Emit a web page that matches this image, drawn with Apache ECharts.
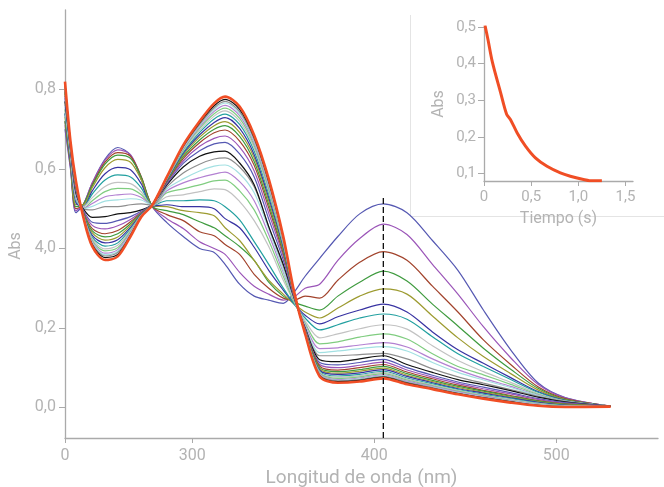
<!DOCTYPE html>
<html>
<head>
<meta charset="utf-8">
<script src="https://cdn.jsdelivr.net/npm/echarts@6/dist/echarts.min.js"></script>
<style>html,body{margin:0;padding:0;background:#fff}#c{width:664px;height:487px}</style>
</head>
<body>
<div id="c"></div>
<script>
// Wavelengths (nm)
const wavelengths = [230,233,236,240,245,252,259,266,272,278,286,295,304,312,318,326,334,342,350,356,362,370,380,392,405,418,432,446,460,475,490,505,530];

// Spectra (Abs), in time order
const spectra = [
[.70,.60,.49,.51,.565,.625,.654,.635,.572,.505,.465,.43,.40,.39,.36,.31,.28,.27,.262,.29,.33,.375,.43,.487,.512,.49,.42,.345,.245,.145,.062,.025,.003],
[.71,.605,.495,.51,.565,.622,.648,.636,.578,.505,.475,.45,.417,.40,.385,.34,.305,.285,.27,.278,.30,.31,.37,.425,.461,.435,.36,.285,.203,.125,.058,.024,.003],
[.72,.61,.50,.51,.56,.617,.641,.632,.58,.506,.485,.47,.442,.432,.41,.385,.335,.30,.275,.27,.28,.275,.32,.365,.392,.37,.305,.24,.17,.108,.052,.022,.003],
[.72,.615,.505,.51,.558,.612,.635,.627,.578,.506,.495,.485,.467,.452,.432,.405,.37,.315,.28,.265,.255,.245,.28,.315,.343,.318,.26,.205,.149,.096,.048,.02,.003],
[.73,.62,.51,.51,.553,.603,.624,.617,.572,.507,.505,.495,.49,.482,.452,.42,.37,.32,.285,.26,.24,.225,.25,.28,.298,.285,.23,.175,.128,.085,.044,.019,.003],
[.74,.625,.515,.505,.545,.588,.604,.598,.562,.507,.51,.505,.505,.50,.475,.452,.403,.345,.295,.26,.232,.21,.228,.245,.26,.24,.19,.145,.111,.075,.04,.018,.003],
[.74,.63,.52,.505,.537,.572,.585,.58,.552,.508,.52,.52,.522,.52,.505,.472,.417,.36,.30,.26,.225,.195,.208,.225,.235,.222,.178,.135,.103,.07,.038,.017,.003],
[.75,.635,.525,.505,.528,.556,.566,.563,.542,.508,.53,.535,.543,.55,.548,.518,.47,.405,.32,.265,.218,.175,.185,.198,.208,.197,.155,.118,.09,.063,.035,.016,.003],
[.75,.64,.53,.50,.52,.543,.551,.55,.535,.508,.54,.55,.56,.57,.572,.545,.497,.42,.33,.265,.212,.16,.165,.177,.185,.172,.135,.103,.082,.058,.033,.016,.003],
[.76,.64,.53,.50,.513,.53,.535,.537,.528,.509,.545,.565,.578,.587,.592,.568,.52,.435,.34,.27,.208,.148,.15,.157,.163,.152,.122,.095,.073,.053,.031,.015,.003],
[.76,.645,.535,.50,.506,.519,.522,.525,.522,.509,.55,.575,.595,.607,.61,.588,.54,.448,.345,.27,.205,.138,.142,.148,.153,.142,.113,.088,.069,.05,.03,.015,.003],
[.77,.65,.54,.50,.497,.505,.505,.51,.512,.509,.555,.59,.612,.625,.628,.605,.555,.455,.355,.272,.202,.13,.13,.133,.136,.122,.097,.077,.061,.045,.028,.015,.003],
[.77,.65,.54,.50,.478,.48,.487,.49,.497,.51,.56,.605,.632,.643,.645,.615,.56,.455,.36,.275,.20,.12,.115,.122,.13,.108,.088,.07,.057,.042,.026,.014,.003],
[.778,.653,.545,.497,.466,.463,.470,.480,.494,.51,.563,.614,.646,.663,.667,.638,.580,.474,.371,.277,.198,.113,.107,.113,.121,.100,.081,.064,.051,.037,.022,.012,.003],
[.784,.656,.548,.494,.458,.449,.457,.473,.492,.51,.566,.620,.657,.677,.683,.655,.595,.489,.380,.279,.196,.108,.100,.106,.114,.094,.076,.060,.047,.034,.020,.010,.003],
[.790,.658,.552,.492,.450,.437,.445,.467,.490,.51,.568,.626,.666,.691,.698,.670,.609,.502,.387,.281,.194,.104,.094,.100,.108,.089,.072,.056,.043,.030,.017,.009,.003],
[.794,.659,.554,.491,.444,.429,.437,.462,.489,.51,.569,.631,.673,.700,.709,.682,.619,.511,.393,.282,.193,.100,.090,.095,.103,.085,.068,.053,.041,.028,.016,.008,.003],
[.797,.661,.556,.489,.439,.421,.429,.458,.488,.51,.571,.635,.680,.709,.719,.692,.628,.520,.398,.283,.192,.097,.086,.091,.099,.081,.065,.050,.038,.026,.014,.007,.003],
[.801,.662,.558,.488,.433,.414,.422,.453,.487,.51,.572,.639,.686,.717,.729,.702,.636,.528,.403,.284,.191,.094,.083,.087,.095,.078,.062,.047,.036,.024,.013,.006,.003],
[.804,.664,.560,.486,.428,.406,.414,.449,.485,.51,.574,.642,.692,.726,.738,.712,.645,.537,.408,.285,.190,.091,.079,.083,.091,.074,.059,.045,.033,.022,.011,.005,.003],
[.807,.665,.562,.485,.424,.399,.408,.446,.484,.51,.575,.646,.697,.733,.746,.720,.653,.544,.412,.286,.189,.089,.076,.080,.088,.071,.057,.043,.031,.020,.010,.004,.003],
[.810,.666,.564,.484,.420,.394,.402,.443,.484,.51,.576,.648,.702,.739,.753,.727,.659,.550,.415,.287,.188,.087,.073,.077,.085,.069,.055,.041,.029,.018,.009,.004,.003],
[.812,.667,.565,.483,.417,.388,.397,.440,.483,.51,.577,.651,.706,.745,.760,.734,.665,.556,.419,.288,.187,.085,.070,.074,.082,.066,.053,.039,.028,.017,.008,.003,.003],
[.814,.668,.566,.482,.414,.384,.393,.437,.482,.51,.578,.653,.709,.750,.766,.740,.670,.561,.422,.288,.187,.083,.068,.072,.080,.064,.051,.037,.026,.016,.007,.003,.003],
[.816,.668,.567,.482,.412,.381,.390,.435,.482,.51,.578,.655,.712,.754,.770,.744,.674,.564,.424,.289,.186,.082,.067,.070,.078,.063,.050,.036,.025,.015,.006,.002,.003],
[.818,.669,.569,.481,.409,.377,.385,.433,.481,.51,.579,.657,.716,.759,.775,.750,.679,.569,.427,.289,.186,.080,.065,.068,.076,.061,.048,.035,.024,.014,.005,.002,.003],
[.82,.67,.57,.48,.405,.371,.38,.43,.48,.509,.58,.66,.72,.765,.782,.757,.685,.575,.43,.29,.185,.078,.062,.065,.073,.058,.046,.033,.022,.012,.004,.001,.002]
];

const palette = ['#5558b2','#9b55b8','#a2432c','#3f9b3f','#9d9b30','#3833a2','#22a0a0','#c2c2c2','#80cd80','#b381d2','#a2e0e2','#8e8e8e','#111111'];
const finalColor = '#f04e25';

// Marker wavelength (dashed line)
const markWl = 405;
const markTop = 0.528;

// Inset: kinetic trace at 405 nm
const timeS = [0.01,0.042,0.089,0.176,0.24,0.28,0.352,0.44,0.545,0.668,0.81,0.915,1.055,1.12,1.25];
const absT  = [0.505,0.466,0.404,0.321,0.262,0.248,0.211,0.175,0.143,0.12,0.102,0.093,0.084,0.081,0.081];

// Tick labels
const xTickVals = [230,300,400,500];
const xTickTxt  = ['0','300','400','500'];
const yTickVals = [0,0.2,0.4,0.6,0.8];
const yTickTxt  = ['0,0','0,2','4,0','0,6','0,8'];
const ixTickVals = [0,0.5,1,1.5];
const ixTickTxt  = ['0','0,5','1,0','1,5'];
const iyTickVals = [0.1,0.2,0.3,0.4,0.5];
const iyTickTxt  = ['0,1','0,2','0,3','0,4','0,5'];

const axisCol = '#aaaaaa';
const textCol = '#b3b3b3';
const FONT = 'Roboto';

const chart = echarts.init(document.getElementById('c'), null, {renderer:'canvas'});

const series = spectra.map((vals, i) => {
  const last = i === spectra.length - 1;
  return {
    type: 'line', xAxisIndex: 0, yAxisIndex: 0,
    data: wavelengths.map((w, j) => [w, vals[j]]),
    showSymbol: false, smooth: 0.3, silent: true,
    lineStyle: { width: last ? 2.6 : 1.2, color: last ? finalColor : palette[i % palette.length] },
    z: last ? 4 : 3
  };
});
series.push({
  type: 'line', xAxisIndex: 0, yAxisIndex: 0,
  data: [[markWl, -0.077], [markWl, markTop]],
  showSymbol: false, silent: true,
  lineStyle: { color: '#111', width: 1.3, type: [6, 3] }, z: 6
});
series.push({
  type: 'line', xAxisIndex: 1, yAxisIndex: 1,
  data: timeS.map((t, j) => [t, absT[j]]),
  showSymbol: false, smooth: 0.3, silent: true,
  lineStyle: { color: finalColor, width: 3 }, z: 5
});

function fmt(vals, txt) { return v => { const k = vals.findIndex(x => Math.abs(x - v) < 1e-6); return k >= 0 ? txt[k] : ''; }; }

chart.setOption({
  animation: false,
  backgroundColor: '#fff',
  textStyle: { fontFamily: FONT },
  grid: [
    { left: 65, right: 6, top: 10, bottom: 49, containLabel: false, outerBoundsMode: 'none' },
    { left: 484, right: 31, top: 27, bottom: 306, containLabel: false, outerBoundsMode: 'none' }
  ],
  xAxis: [
    {
      type: 'value', gridIndex: 0, min: 230, max: 556,
      name: 'Longitud de onda (nm)', nameLocation: 'middle', nameGap: 31,
      nameTextStyle: { color: textCol, fontSize: 19, fontFamily: FONT },
      axisLine: { show: true, onZero: false, lineStyle: { color: axisCol, width: 1.3 } },
      axisTick: { show: true, customValues: xTickVals, length: 5, lineStyle: { color: axisCol } },
      axisLabel: { customValues: xTickVals, formatter: fmt(xTickVals, xTickTxt), color: textCol, fontSize: 16, margin: 10, fontFamily: FONT },
      splitLine: { show: false }
    },
    {
      type: 'value', gridIndex: 1, min: 0, max: 1.58,
      name: 'Tiempo (s)', nameLocation: 'middle', nameGap: 30,
      nameTextStyle: { color: textCol, fontSize: 16, fontFamily: FONT },
      axisLine: { show: true, onZero: false, lineStyle: { color: axisCol, width: 1.3 } },
      axisTick: { show: true, customValues: ixTickVals, length: 5, lineStyle: { color: axisCol } },
      axisLabel: { customValues: ixTickVals, formatter: fmt(ixTickVals, ixTickTxt), color: textCol, fontSize: 15, margin: 9, fontFamily: FONT },
      splitLine: { show: false }
    }
  ],
  yAxis: [
    {
      type: 'value', gridIndex: 0, min: -0.077, max: 1.0,
      name: 'Abs', nameLocation: 'middle', nameGap: 37,
      nameTextStyle: { color: textCol, fontSize: 16, fontFamily: FONT, padding: [0, 44, 0, 0] },
      axisLine: { show: true, onZero: false, lineStyle: { color: axisCol, width: 1.3 } },
      axisTick: { show: true, customValues: yTickVals, length: 6, lineStyle: { color: axisCol } },
      axisLabel: { customValues: yTickVals, formatter: fmt(yTickVals, yTickTxt), color: textCol, fontSize: 16, margin: 9, fontFamily: FONT },
      splitLine: { show: false }
    },
    {
      type: 'value', gridIndex: 1, min: 0.08, max: 0.5,
      name: 'Abs', nameLocation: 'middle', nameGap: 37,
      nameTextStyle: { color: textCol, fontSize: 16, fontFamily: FONT },
      axisLine: { show: true, onZero: false, lineStyle: { color: axisCol, width: 1.3 } },
      axisTick: { show: true, customValues: iyTickVals, length: 6, lineStyle: { color: axisCol } },
      axisLabel: { customValues: iyTickVals, formatter: fmt(iyTickVals, iyTickTxt), color: textCol, fontSize: 15, margin: 8, fontFamily: FONT },
      splitLine: { show: false }
    }
  ],
  graphic: [
    { type: 'line', silent: true, shape: { x1: 410.5, y1: 15, x2: 410.5, y2: 216.5 }, style: { stroke: '#e4e4e4', lineWidth: 1 } },
    { type: 'line', silent: true, shape: { x1: 410.5, y1: 216.5, x2: 664, y2: 216.5 }, style: { stroke: '#e4e4e4', lineWidth: 1 } }
  ],
  series: series
});
</script>
</body>
</html>
